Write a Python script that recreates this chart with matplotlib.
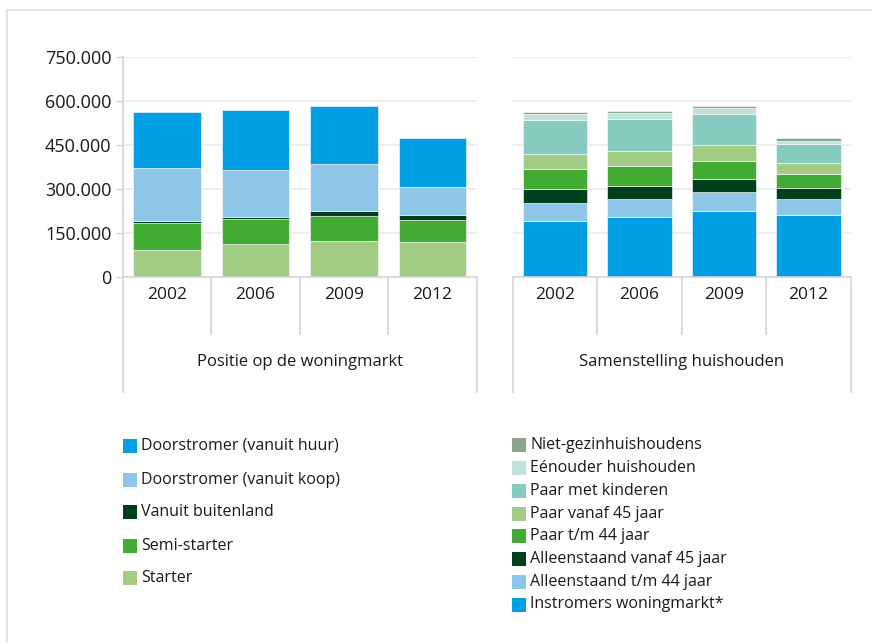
import matplotlib
matplotlib.use("Agg")
import matplotlib.pyplot as plt
from matplotlib.patches import Rectangle
from matplotlib.lines import Line2D
from matplotlib.ticker import FuncFormatter
import numpy as np

plt.rcParams['font.family'] = ['Open Sans', 'DejaVu Sans']

years = ["2002", "2006", "2009", "2012"]

# Left panel: Positie op de woningmarkt (stack order bottom -> top)
starter = [91000, 112000, 122000, 120000]
semi_starter = [93000, 84000, 86000, 74000]
vanuit_buitenland = [8000, 8000, 16000, 18000]
doorstromer_koop = [178000, 162000, 162000, 95000]
doorstromer_huur = [194000, 203000, 197000, 166000]

# Right panel: Samenstelling huishouden (stack order bottom -> top)
instromers = [191000, 204000, 225000, 212000]
alleen_tm44 = [62000, 61000, 63000, 52000]
alleen_45 = [46000, 46000, 46000, 40000]
paar_tm44 = [69000, 68000, 62000, 48000]
paar_45 = [50000, 51000, 54000, 36000]
paar_kinderen = [117000, 109000, 107000, 65000]
eenouder = [21000, 21000, 19000, 12000]
niet_gezin = [8000, 8000, 8000, 8000]

left_labels = ["Doorstromer (vanuit huur)", "Doorstromer (vanuit koop)",
               "Vanuit buitenland", "Semi-starter", "Starter"]
right_labels = ["Niet-gezinhuishoudens", "Eénouder huishouden", "Paar met kinderen",
                "Paar vanaf 45 jaar", "Paar t/m 44 jaar", "Alleenstaand vanaf 45 jaar",
                "Alleenstaand t/m 44 jaar", "Instromers woningmarkt*"]
group_titles = ["Positie op de woningmarkt", "Samenstelling huishouden"]
yticks = [0, 150000, 300000, 450000, 600000, 750000]

C_BLUE = "#009FE3"
C_LBLUE = "#8EC6E8"
C_DGREEN = "#003F1B"
C_GREEN = "#42AB34"
C_LGREEN = "#A2CC84"
C_TEAL = "#86CBBF"
C_LTEAL = "#BFE2DB"
C_GRAYG = "#8AA58A"

left_series = [(starter, C_LGREEN), (semi_starter, C_GREEN), (vanuit_buitenland, C_DGREEN),
               (doorstromer_koop, C_LBLUE), (doorstromer_huur, C_BLUE)]
right_series = [(instromers, C_BLUE), (alleen_tm44, C_LBLUE), (alleen_45, C_DGREEN),
                (paar_tm44, C_GREEN), (paar_45, C_LGREEN), (paar_kinderen, C_TEAL),
                (eenouder, C_LTEAL), (niet_gezin, C_GRAYG)]

W, H = 872, 643
fig = plt.figure(figsize=(W / 100, H / 100), dpi=100)
fig.patch.set_facecolor("white")

LINE = "#D4D4D4"
GRID = "#EBEBEB"
TXT = "#1a1a1a"
FS = 11.5
FS_TICK = 13
FS_YEAR = 12.5
FS_GROUP = 12

y_top, y_base = 57.3, 276.7
def axrect(x0, x1):
    return [x0 / W, 1 - y_base / H, (x1 - x0) / W, (y_base - y_top) / H]

axL = fig.add_axes(axrect(122.7, 476.7))
axR = fig.add_axes(axrect(512.7, 850.7))

h_px = y_base - y_top
div_y = -(334 - y_base) / h_px
out_y = -(391.7 - y_base) / h_px
year_y = -(295 - y_base) / h_px
group_y = -(361.7 - y_base) / h_px

x = np.arange(len(years))
for ax, series, title, show_y in [(axL, left_series, group_titles[0], True),
                                   (axR, right_series, group_titles[1], False)]:
    bottom = np.zeros(len(years))
    for vals, col in series:
        ax.bar(x, vals, width=0.765, bottom=bottom, color=col,
               edgecolor="white", linewidth=0.4, zorder=3)
        bottom += np.array(vals)
    ax.set_xlim(-0.5, len(years) - 0.5)
    ax.set_ylim(0, 750000)
    ax.set_yticks(yticks)
    for s in ax.spines.values():
        s.set_visible(False)
    ax.grid(axis="y", color=GRID, linewidth=1.2, zorder=0)
    ax.set_axisbelow(True)
    ax.set_xticks([])
    if show_y:
        ax.yaxis.set_major_formatter(FuncFormatter(lambda v, p: f"{int(v):,}".replace(",", ".")))
        ax.tick_params(axis="y", length=5, width=1, color=LINE, pad=3,
                       labelsize=FS_TICK, labelcolor=TXT)
    else:
        ax.tick_params(axis="y", length=0, labelleft=False)
    tr = ax.get_xaxis_transform()
    # baseline
    ax.plot([-0.5, len(years) - 0.5], [0, 0], transform=tr, color=LINE, lw=1.2,
            clip_on=False, zorder=4)
    # outer vertical lines
    top_left = 1.0 if show_y else 0.0
    ax.plot([-0.5, -0.5], [out_y, top_left], transform=tr, color=LINE, lw=1.2, clip_on=False)
    ax.plot([len(years) - 0.5] * 2, [out_y, 0], transform=tr, color=LINE, lw=1.2, clip_on=False)
    for b in np.arange(0.5, len(years) - 0.5, 1):
        ax.plot([b, b], [div_y, 0], transform=tr, color=LINE, lw=1.2, clip_on=False)
    for i, yr in enumerate(years):
        ax.text(i, year_y, yr, transform=tr, ha="center", va="center",
                fontsize=FS_YEAR, color=TXT)
    ax.text((len(years) - 1) / 2, group_y, title, transform=tr, ha="center",
            va="center", fontsize=FS_GROUP, color=TXT)

# legends
left_cols = [C_BLUE, C_LBLUE, C_DGREEN, C_GREEN, C_LGREEN]
left_rows = [446, 480, 512, 546, 578]
for lab, col, yc in zip(left_labels, left_cols, left_rows):
    fig.add_artist(Rectangle((122.7 / W, 1 - (yc + 7) / H), 14 / W, 14 / H,
                             transform=fig.transFigure, facecolor=col, edgecolor="none"))
    fig.text(141 / W, 1 - yc / H, lab, ha="left", va="center", fontsize=FS, color=TXT)

right_cols = [C_GRAYG, C_LTEAL, C_TEAL, C_LGREEN, C_GREEN, C_DGREEN, C_LBLUE, C_BLUE]
right_rows = [445, 468, 491, 513.5, 536, 559, 582, 604.5]
for lab, col, yc in zip(right_labels, right_cols, right_rows):
    fig.add_artist(Rectangle((512 / W, 1 - (yc + 7) / H), 14 / W, 14 / H,
                             transform=fig.transFigure, facecolor=col, edgecolor="none"))
    fig.text(530.5 / W, 1 - yc / H, lab, ha="left", va="center", fontsize=FS, color=TXT)

# outer frame lines (top & left)
fig.add_artist(Line2D([7 / W, 1], [1 - 10 / H, 1 - 10 / H], transform=fig.transFigure,
                      color="#DEDEDE", lw=1.2))
fig.add_artist(Line2D([7 / W, 7 / W], [0, 1 - 10 / H], transform=fig.transFigure,
                      color="#DEDEDE", lw=1.2))

fig.savefig("out.png", dpi=100, facecolor="white")
